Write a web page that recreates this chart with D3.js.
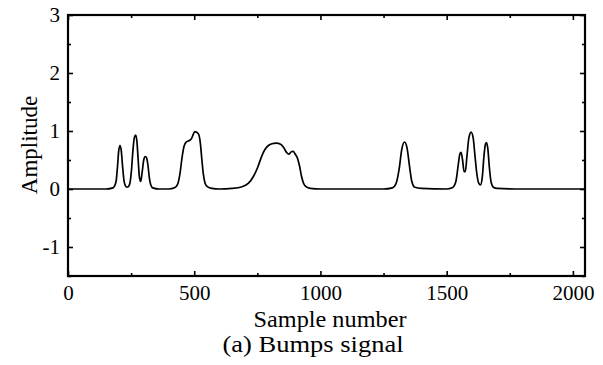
<!DOCTYPE html>
<html>
<head>
<meta charset="utf-8">
<script src="https://cdn.jsdelivr.net/npm/d3@7"></script>
<style>
  html, body { margin: 0; padding: 0; background: #fff; }
  svg { display: block; }
</style>
</head>
<body>
<svg id="chart" width="603" height="365"></svg>
<script>
// Bumps test signal, read as (sample, amplitude) pairs
const sampleIdx = [0,150,178,190,196,201,206,211,216,222,230,236,244,251,257,263,268,273,278,283,288,294,300,306,311,317,322,328,336,360,
  400,422,434,444,452,460,468,478,488,495,502,510,518,524,530,536,543,552,570,600,
  650,690,715,735,752,766,780,794,808,825,842,855,866,875,884,892,900,909,917,925,933,943,960,1000,
  1250,1285,1300,1312,1322,1333,1343,1352,1362,1374,1400,1500,
  1522,1536,1546,1552,1557,1563,1569,1574,1580,1588,1597,1605,1612,1619,1627,1634,1641,1648,1654,1658,1663,1669,1676,1685,1700,1800,2048];
const amplitude = [0,0,0.02,0.12,0.38,0.66,0.75,0.66,0.40,0.14,0.04,0.03,0.08,0.30,0.65,0.89,0.93,0.82,0.50,0.20,0.13,0.30,0.50,0.56,0.54,0.40,0.20,0.07,0.02,0,
  0,0.02,0.08,0.28,0.55,0.74,0.81,0.83,0.86,0.93,0.99,0.98,0.94,0.80,0.52,0.26,0.10,0.04,0.01,0,
  0.01,0.04,0.10,0.22,0.38,0.55,0.68,0.75,0.78,0.79,0.77,0.71,0.63,0.60,0.64,0.65,0.60,0.53,0.40,0.22,0.10,0.04,0.01,0,
  0,0.02,0.10,0.35,0.68,0.81,0.71,0.42,0.13,0.03,0.01,0,
  0.02,0.12,0.42,0.60,0.63,0.50,0.30,0.30,0.55,0.88,0.98,0.88,0.58,0.28,0.10,0.07,0.20,0.58,0.78,0.80,0.70,0.38,0.12,0.03,0.01,0,0];

const xMajorTicks = [0, 500, 1000, 1500, 2000];
const xMinorTicks = [250, 750, 1250, 1750];
const yMajorTicks = [-1, 0, 1, 2, 3];
const yMinorTicks = [-1.5, -0.5, 0.5, 1.5, 2.5];
const xTitle = "Sample number";
const yTitle = "Amplitude";
const caption = "(a) Bumps signal";

const FONT = "'Liberation Serif'";

const svg = d3.select("#chart");
const plotL = 68, plotR = 585, plotT = 15, plotB = 276;

const x = d3.scaleLinear().domain([0, 2048]).range([plotL, plotR]);
const y = d3.scaleLinear().domain([-1.5, 3]).range([plotB, plotT]);

// plain hyphen for negatives
const fmt = v => String(v);

function styleAxis(g, labels) {
  g.attr("font-family", FONT);
  g.select(".domain").remove();
  g.selectAll(".tick line").attr("stroke", "#000").attr("stroke-width", 1.6);
  if (!labels) g.selectAll(".tick text").remove();
  else g.selectAll(".tick text").attr("font-size", 21).attr("font-family", FONT).attr("fill", "#000");
}

// bottom axis: labelled majors + minors, ticks pointing inward
svg.append("g").attr("transform", `translate(0,${plotB})`)
  .call(d3.axisBottom(x).tickValues(xMajorTicks).tickFormat(fmt).tickSizeInner(-5).tickSizeOuter(0).tickPadding(9))
  .call(g => styleAxis(g, true));
svg.append("g").attr("transform", `translate(0,${plotB})`)
  .call(d3.axisBottom(x).tickValues(xMinorTicks).tickSizeInner(-3).tickSizeOuter(0))
  .call(g => styleAxis(g, false));
// top mirror ticks
svg.append("g").attr("transform", `translate(0,${plotT})`)
  .call(d3.axisTop(x).tickValues(xMajorTicks).tickSizeInner(-5).tickSizeOuter(0))
  .call(g => styleAxis(g, false));
svg.append("g").attr("transform", `translate(0,${plotT})`)
  .call(d3.axisTop(x).tickValues(xMinorTicks).tickSizeInner(-3).tickSizeOuter(0))
  .call(g => styleAxis(g, false));

// left axis
svg.append("g").attr("transform", `translate(${plotL},0)`)
  .call(d3.axisLeft(y).tickValues(yMajorTicks).tickFormat(fmt).tickSizeInner(-5).tickSizeOuter(0).tickPadding(8))
  .call(g => styleAxis(g, true));
svg.append("g").attr("transform", `translate(${plotL},0)`)
  .call(d3.axisLeft(y).tickValues(yMinorTicks).tickSizeInner(-3).tickSizeOuter(0))
  .call(g => styleAxis(g, false));
// right mirror ticks
svg.append("g").attr("transform", `translate(${plotR},0)`)
  .call(d3.axisRight(y).tickValues(yMajorTicks).tickSizeInner(-5).tickSizeOuter(0))
  .call(g => styleAxis(g, false));
svg.append("g").attr("transform", `translate(${plotR},0)`)
  .call(d3.axisRight(y).tickValues(yMinorTicks).tickSizeInner(-3).tickSizeOuter(0))
  .call(g => styleAxis(g, false));

// signal trace
const pts = sampleIdx.map((s, i) => [s, amplitude[i]]);
const line = d3.line().x(d => x(d[0])).y(d => y(d[1])).curve(d3.curveMonotoneX);
svg.append("path").datum(pts)
  .attr("d", line)
  .attr("fill", "none")
  .attr("stroke", "#000")
  .attr("stroke-width", 1.7)
  .attr("stroke-linejoin", "round");

// plot frame
svg.append("rect")
  .attr("x", plotL).attr("y", plotT)
  .attr("width", plotR - plotL).attr("height", plotB - plotT)
  .attr("fill", "none").attr("stroke", "#000").attr("stroke-width", 2.2);

// titles
const titles = svg.append("g").attr("font-family", FONT).attr("fill", "#000");
titles.append("text").attr("x", 330).attr("y", 327)
  .attr("text-anchor", "middle").attr("font-size", 24)
  .attr("textLength", 153).attr("lengthAdjust", "spacingAndGlyphs").text(xTitle);
titles.append("text").attr("x", 313).attr("y", 352)
  .attr("text-anchor", "middle").attr("font-size", 24)
  .attr("textLength", 181).attr("lengthAdjust", "spacingAndGlyphs").text(caption);
titles.append("text")
  .attr("transform", `translate(37,145) rotate(-90)`)
  .attr("text-anchor", "middle").attr("font-size", 23).text(yTitle);
</script>
</body>
</html>
